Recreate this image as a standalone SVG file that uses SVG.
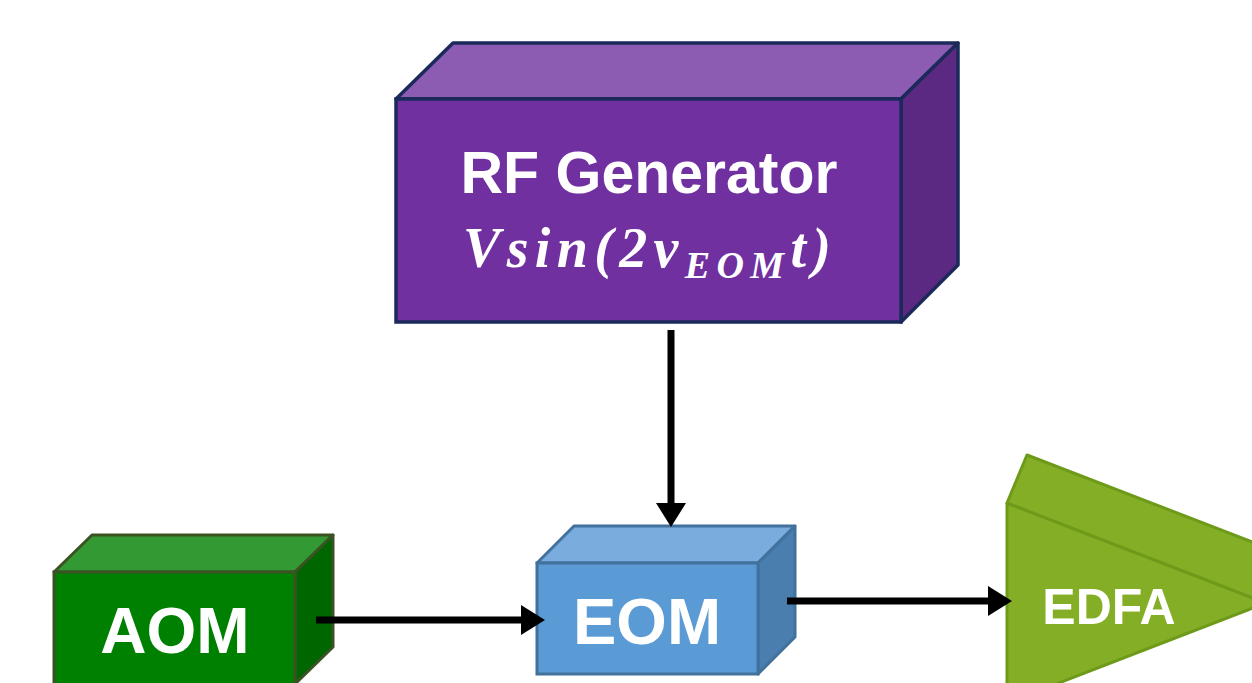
<svg xmlns="http://www.w3.org/2000/svg" width="1252" height="683" viewBox="0 0 1252 683">
<defs>
<marker id="ah" markerUnits="userSpaceOnUse" markerWidth="26" markerHeight="30" refX="4" refY="15" orient="auto">
<path d="M0,0 L24,15 L0,30 Z" fill="#000"/>
</marker>
<style>
.lbl{font-family:"Liberation Sans",Arial,sans-serif;font-weight:bold;fill:#fff;text-anchor:middle}
.math{font-family:"Liberation Serif","DejaVu Serif",serif;font-weight:bold;font-style:italic;fill:#fff}
.conn{stroke:#000;stroke-width:7;fill:none}
</style>
</defs>
<rect width="1252" height="683" fill="#fff"/>
<g id="rf">
<polygon points="396,99 453,43 958,43 901,99" fill="#8B5CB1" stroke="#1B2A5A" stroke-width="3.5" stroke-linejoin="round"/>
<polygon points="901,99 958,43 958,265 901,322" fill="#5C2982" stroke="#1B2A5A" stroke-width="3.5" stroke-linejoin="round"/>
<rect x="396" y="99" width="505" height="223" fill="#7030A0" stroke="#1B2A5A" stroke-width="3.5"/>
<text class="lbl" x="649" y="193" font-size="59">RF Generator</text>
<text class="math" x="463" y="267" font-size="56" textLength="368" lengthAdjust="spacing">Vsin(2ν<tspan font-size="38" dy="11">EOM</tspan><tspan dy="-11">t)</tspan></text>
</g>
<g id="aom">
<polygon points="54,572 92,535 333,535 295,572" fill="#339933" stroke="#3B5323" stroke-width="3" stroke-linejoin="round"/>
<polygon points="295,572 333,535 333,647 295,684" fill="#006600" stroke="#3B5323" stroke-width="3" stroke-linejoin="round"/>
<rect x="54" y="572" width="241" height="115" fill="#008000" stroke="#3B5323" stroke-width="3"/>
<text class="lbl" x="175" y="653" font-size="64">AOM</text>
</g>
<g id="eom">
<polygon points="537,563 574,526 795,526 758,563" fill="#7AADDD" stroke="#41719C" stroke-width="3" stroke-linejoin="round"/>
<polygon points="758,563 795,526 795,637 758,674" fill="#4A7EAE" stroke="#41719C" stroke-width="3" stroke-linejoin="round"/>
<rect x="537" y="563" width="221" height="111" fill="#5B9BD5" stroke="#41719C" stroke-width="3"/>
<text class="lbl" x="647" y="644" font-size="65">EOM</text>
</g>
<g id="edfa">
<polygon points="1007,503 1266,603 1007,703" fill="#84AE26" stroke="#6E9A1A" stroke-width="3" stroke-linejoin="round"/>
<polygon points="1007,503 1027,455 1286,555 1266,603" fill="#84AE26" stroke="#6E9A1A" stroke-width="3" stroke-linejoin="round"/>
<text class="lbl" x="1109" y="624" font-size="50">EDFA</text>
</g>
<g id="connectors">
<line class="conn" x1="671" y1="330" x2="671" y2="507" marker-end="url(#ah)"/>
<line class="conn" x1="316" y1="620" x2="525" y2="620" marker-end="url(#ah)"/>
<line class="conn" x1="787" y1="601" x2="992" y2="601" marker-end="url(#ah)"/>
</g>
</svg>
